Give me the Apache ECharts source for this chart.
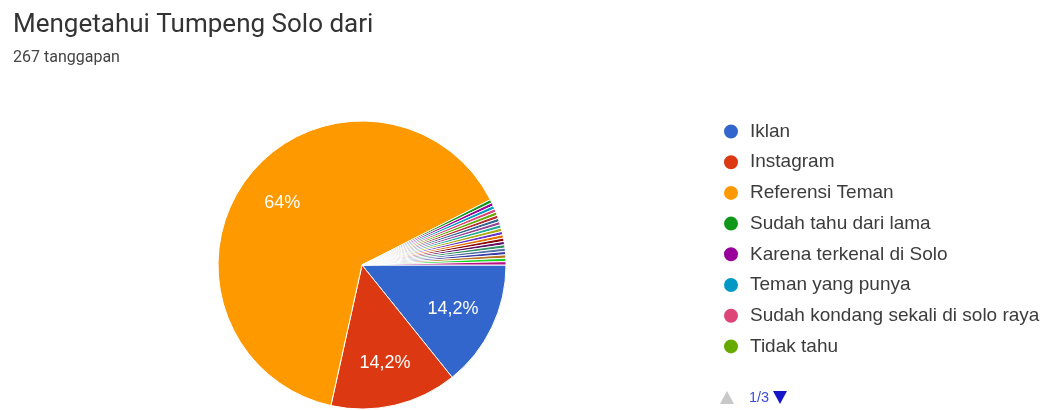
<!DOCTYPE html>
<html>
<head>
<meta charset="utf-8">
<script src="https://cdn.jsdelivr.net/npm/echarts@6/dist/echarts.min.js"></script>
<style>
html,body{margin:0;padding:0;background:#fff;}
#chart{width:1047px;height:410px;}
</style>
</head>
<body>
<div id="chart"></div>
<script>
const titleText = 'Mengetahui Tumpeng Solo dari';
const subtitleText = '267 tanggapan';
const categories = [
  'Iklan', 'Instagram', 'Referensi Teman', 'Sudah tahu dari lama',
  'Karena terkenal di Solo', 'Teman yang punya', 'Sudah kondang sekali di solo raya', 'Tidak tahu',
  'Lainnya 1', 'Lainnya 2', 'Lainnya 3', 'Lainnya 4', 'Lainnya 5', 'Lainnya 6', 'Lainnya 7',
  'Lainnya 8', 'Lainnya 9', 'Lainnya 10', 'Lainnya 11', 'Lainnya 12', 'Lainnya 13', 'Lainnya 14', 'Lainnya 15'
];
const counts = [38, 38, 171, 1, 1, 1, 1, 1, 1, 1, 1, 1, 1, 1, 1, 1, 1, 1, 1, 1, 1, 1, 1];
const colors = ['#3366cc', '#dc3912', '#ff9900', '#109618', '#990099', '#0099c6', '#dd4477', '#66aa00',
  '#b82e2e', '#316395', '#994499', '#22aa99', '#aaaa11', '#6633cc', '#e67300', '#8b0707',
  '#651067', '#329262', '#5574a6', '#3b3eac', '#b77322', '#16d620', '#b91383'];
const legendPageText = '1/3';
const legendPerPage = 8;

const total = counts.reduce((a, b) => a + b, 0);
const pieData = categories.map((n, i) => ({ name: n, value: counts[i] }));
function fmtPct(v) {
  let s = (v / total * 100).toFixed(1);
  if (s.endsWith('.0')) s = s.slice(0, -2);
  return s.replace('.', ',') + '%';
}

const chart = echarts.init(document.getElementById('chart'), null, { renderer: 'canvas' });
chart.setOption({
  animation: false,
  color: colors,
  title: {
    text: titleText,
    subtext: subtitleText,
    left: 13,
    top: 12,
    padding: 0,
    itemGap: 12,
    textStyle: { fontFamily: 'Roboto', fontSize: 26, fontWeight: 'normal', color: '#333333' },
    subtextStyle: { fontFamily: 'Roboto', fontSize: 16, color: '#444444' }
  },
  legend: {
    type: 'plain',
    orient: 'vertical',
    left: 722,
    top: 122,
    padding: 0,
    data: categories.slice(0, legendPerPage),
    icon: 'circle',
    itemWidth: 16,
    itemHeight: 16,
    itemGap: 11.7,
    selectedMode: false,
    textStyle: { fontFamily: 'Liberation Sans', fontSize: 19, color: '#3c3c3c', padding: [0, 0, 0, 6] }
  },
  graphic: [
    { type: 'polygon', shape: { points: [[720, 404], [734, 404], [727, 391]] }, style: { fill: '#c8c8c8' } },
    { type: 'text', left: 749, top: 390, style: { text: legendPageText, fill: '#3a4fd6', fontSize: 14.5, fontFamily: 'Liberation Sans' } },
    { type: 'polygon', shape: { points: [[773, 391], [787, 391], [780, 404]] }, style: { fill: '#1616c8' } }
  ],
  series: [
    {
      type: 'pie',
      center: [362, 265],
      radius: [0, 144],
      startAngle: 0,
      clockwise: true,
      avoidLabelOverlap: false,
      silent: true,
      label: { show: false },
      labelLine: { show: false },
      emphasis: { disabled: true },
      itemStyle: { borderColor: '#ffffff', borderWidth: 1 },
      data: pieData
    },
    {
      type: 'pie',
      center: [362, 265],
      radius: [52, 144],
      startAngle: 0,
      clockwise: true,
      avoidLabelOverlap: false,
      silent: true,
      emphasis: { disabled: true },
      itemStyle: { color: 'rgba(0,0,0,0)', borderWidth: 0 },
      labelLine: { show: false },
      label: {
        show: true,
        position: 'inside',
        color: '#ffffff',
        fontFamily: 'Liberation Sans',
        fontSize: 18,
        formatter: p => (p.value / total >= 0.05 ? fmtPct(p.value) : '')
      },
      data: pieData
    }
  ]
});
</script>
</body>
</html>
